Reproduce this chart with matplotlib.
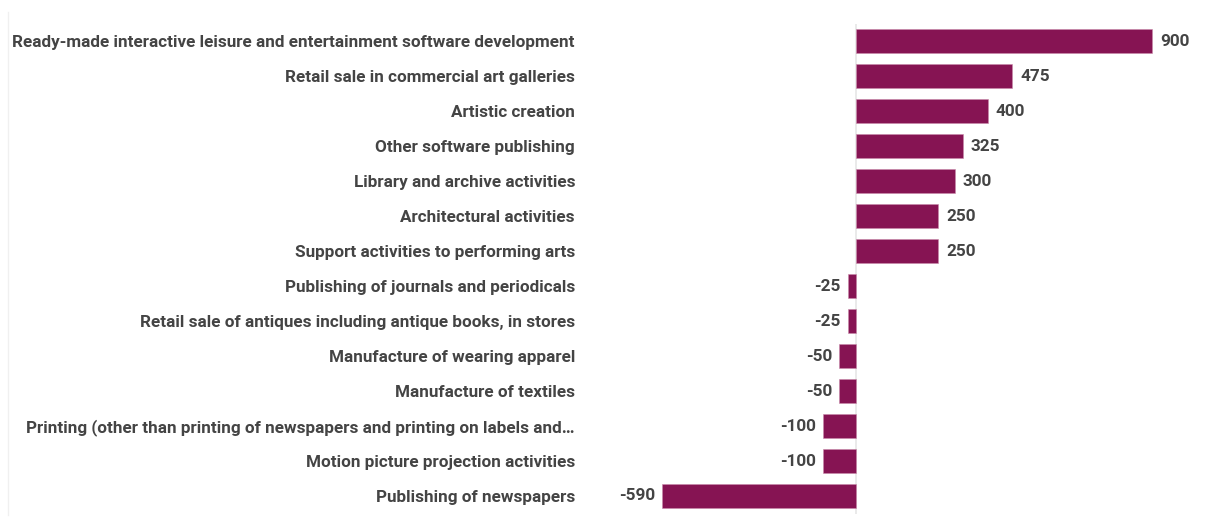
import matplotlib.pyplot as plt
from matplotlib.lines import Line2D

plt.rcParams['font.family'] = ['Roboto', 'DejaVu Sans']

categories = [
    "Ready-made interactive leisure and entertainment software development",
    "Retail sale in commercial art galleries",
    "Artistic creation",
    "Other software publishing",
    "Library and archive activities",
    "Architectural activities",
    "Support activities to performing arts",
    "Publishing of journals and periodicals",
    "Retail sale of antiques including antique books, in stores",
    "Manufacture of wearing apparel",
    "Manufacture of textiles",
    "Printing (other than printing of newspapers and printing on labels and\u2026",
    "Motion picture projection activities",
    "Publishing of newspapers",
]
values = [900, 475, 400, 325, 300, 250, 250, -25, -25, -50, -50, -100, -100, -590]

bar_color = "#861453"
text_color = "#444444"

W, H = 1205, 520
fig = plt.figure(figsize=(W / 100, H / 100), dpi=100)
ax = fig.add_axes([600 / W, 1 - 513.5 / H, 605 / W, 490 / H])

ypos = list(range(len(categories)))
ax.barh(ypos, values, height=0.68, color=bar_color, edgecolor="#c98aaa", linewidth=0.4, zorder=2)
ax.set_xlim(-778, 1061)
ax.set_ylim(len(categories) - 0.5, -0.5)

ax.axvline(0, color="#e6e6e6", linewidth=1.2, zorder=1)

ax.set_yticks(ypos)
ax.set_yticklabels(categories, fontsize=12.3, fontweight="bold", color=text_color)
ax.tick_params(axis="y", length=0, pad=18)
ax.set_xticks([])
for s in ax.spines.values():
    s.set_visible(False)

for y, v in zip(ypos, values):
    if v >= 0:
        ax.annotate(str(v), (v, y), xytext=(5.8, 0), textcoords="offset points",
                    ha="left", va="center", fontsize=12.3, fontweight="bold", color=text_color)
    else:
        ax.annotate(str(v), (v, y), xytext=(-5, 0), textcoords="offset points",
                    ha="right", va="center", fontsize=12.3, fontweight="bold", color=text_color)

# faint left border line
fig.add_artist(Line2D([8 / W, 8 / W], [1 - 515 / H, 1 - 12 / H], color="#f0f0f0", linewidth=1))

fig.savefig("out.png", dpi=100, facecolor="white")
